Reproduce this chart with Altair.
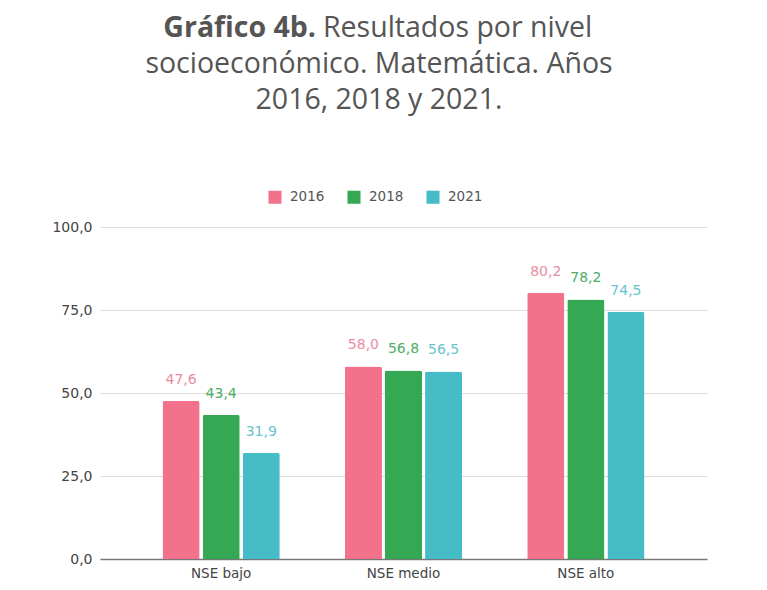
import altair as alt
import pandas as pd

categories = ["NSE bajo", "NSE medio", "NSE alto"]
years = ["2016", "2018", "2021"]
v2016 = [47.6, 58.0, 80.2]
v2018 = [43.4, 56.8, 78.2]
v2021 = [31.9, 56.5, 74.5]
y_ticks = [0, 25, 50, 75, 100]
bar_colors = ["#F2728B", "#34A853", "#46BDC6"]
label_colors = ["#E98CA1", "#4CAD66", "#66C4CD"]

rows = []
for yr, vals in zip(years, [v2016, v2018, v2021]):
    for c, v in zip(categories, vals):
        rows.append({"nivel": c, "anio": yr, "valor": v})
df = pd.DataFrame(rows)

W, H = 607, 332
TFONT = "Open Sans"
FONT = "DejaVu Sans"

x = alt.X("nivel:N", sort=categories, title=None,
          scale=alt.Scale(paddingInner=0.357, paddingOuter=0.343),
          axis=alt.Axis(labelAngle=0, labelFont=FONT, labelFontSize=13.5, labelColor="#444444",
                        domainColor="#777777", domainWidth=1.5, ticks=False, labelPadding=7))
xo = alt.XOffset("anio:N", sort=years, scale=alt.Scale(paddingInner=0.075, paddingOuter=0))
y = alt.Y("valor:Q", title=None,
          scale=alt.Scale(domain=[0, 100], nice=False),
          axis=alt.Axis(values=y_ticks, labelExpr="replace(format(datum.value, '.1f'), '.', ',')",
                        labelFont=FONT, labelFontSize=14, labelColor="#444444", labelPadding=8,
                        ticks=False, domain=False, gridColor="#DDDDDD", gridWidth=1))

base = alt.Chart(df)

bars = base.mark_bar(cornerRadiusTopLeft=2, cornerRadiusTopRight=2).encode(
    x=x, xOffset=xo, y=y,
    color=alt.Color("anio:N", sort=years, title=None,
                    scale=alt.Scale(domain=years, range=bar_colors),
                    legend=alt.Legend(orient="none", legendX=168, legendY=-37, direction="horizontal",
                                      symbolType="square", symbolSize=170, symbolStrokeWidth=0,
                                      labelFont=FONT, labelFontSize=13.5, labelColor="#555555",
                                      labelOffset=8, columnPadding=22)),
)

labels = base.transform_calculate(
    lbl="replace(format(datum.valor, '.1f'), '.', ',')"
).mark_text(font=FONT, fontSize=14, dy=-17, baseline="alphabetic").encode(
    x=x, xOffset=xo, y=y,
    text="lbl:N",
    color=alt.Color("anio:N", sort=years, scale=alt.Scale(domain=years, range=label_colors), legend=None),
)

tdf1a = pd.DataFrame({"t": ["Gráfico 4b."]})
tdf1b = pd.DataFrame({"t": ["Resultados por nivel"]})
tdf2 = pd.DataFrame({"t": ["socioeconómico. Matemática. Años"]})
tdf3 = pd.DataFrame({"t": ["2016, 2018 y 2021."]})

TS = 28.5
t1a = alt.Chart(tdf1a).mark_text(font=TFONT, fontSize=TS, fontWeight="bold", color="#555555",
                                  align="right", baseline="alphabetic").encode(
    x=alt.value(216), y=alt.value(-190), text="t:N")
t1b = alt.Chart(tdf1b).mark_text(font=TFONT, fontSize=TS, color="#555555",
                                  align="left", baseline="alphabetic").encode(
    x=alt.value(223), y=alt.value(-190), text="t:N")
t2 = alt.Chart(tdf2).mark_text(font=TFONT, fontSize=TS, color="#555555",
                                align="center", baseline="alphabetic").encode(
    x=alt.value(279), y=alt.value(-154), text="t:N")
t3 = alt.Chart(tdf3).mark_text(font=TFONT, fontSize=TS, color="#555555",
                                align="center", baseline="alphabetic").encode(
    x=alt.value(279), y=alt.value(-118), text="t:N")

chart = alt.layer(bars, labels, t1a, t1b, t2, t3).resolve_scale(color="independent").properties(
    width=W, height=H,
    background="white",
    autosize=alt.AutoSizeParams(type="none"),
    padding={"left": 100, "top": 227, "right": 60, "bottom": 31},
).configure_view(strokeWidth=0, stroke="transparent")

chart.save("out.html", embed_options={"renderer": "svg", "actions": False})
